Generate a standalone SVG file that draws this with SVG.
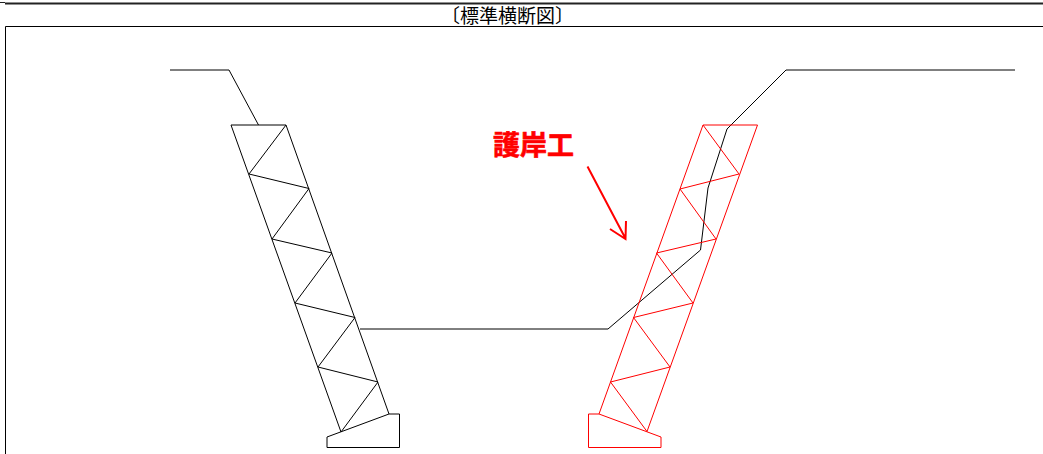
<svg xmlns="http://www.w3.org/2000/svg" width="1043" height="454" viewBox="0 0 1043 454">
<style>
.k{fill:none;stroke:#000;stroke-width:1}
.r{fill:none;stroke:#f00;stroke-width:1}
text{font-family:"Noto Sans CJK JP","Liberation Sans",sans-serif}
</style>
<rect width="1043" height="454" fill="#fff"/>
<g id="header">
<path d="M0 2.500H5" fill="none" stroke="#222" stroke-width="1"/>
<path d="M5 3.500H1043" fill="none" stroke="#222" stroke-width="2"/>
<text x="507.500" y="23" font-size="19" text-anchor="middle" fill="#000">〔標準横断図〕</text>
<path d="M5.500 454V26.500H1043" class="k"/>
</g>
<g id="ground">
<path class="k" d="M170 70H229L258.500 125"/>
<path class="k" d="M360 329H608L700.500 250L708 188L727 129L786 70H1015"/>
</g>
<g id="left-revetment">
<path class="k" d="M231 125H286L389 414H399.500V447.500H327V437L389 414M231 125L341 432"/>
<path class="k" d="M286 125L249 174L309 188.500L272 239L332 253L295 303L355 317.500L318 367L378 382L341 432"/>
</g>
<g id="right-revetment">
<path class="r" d="M757.500 125H703L599 414H588.500V447.500H661V437L599 414M757.500 125L647 431.500"/>
<path class="r" d="M703 125L739 174L680 189L716 239L656.500 253L693 303L633.500 317.500L670 367L610.500 382L647 431.500"/>
</g>
<g id="label">
<text x="493" y="155" font-size="27" font-weight="700" fill="#f00" stroke="#f00" stroke-width=".6">護岸工</text>
<path d="M587.500 166.500L625.500 238.500M610 229L625.500 239L626 221" fill="none" stroke="#f00" stroke-width="2"/>
</g>
</svg>
